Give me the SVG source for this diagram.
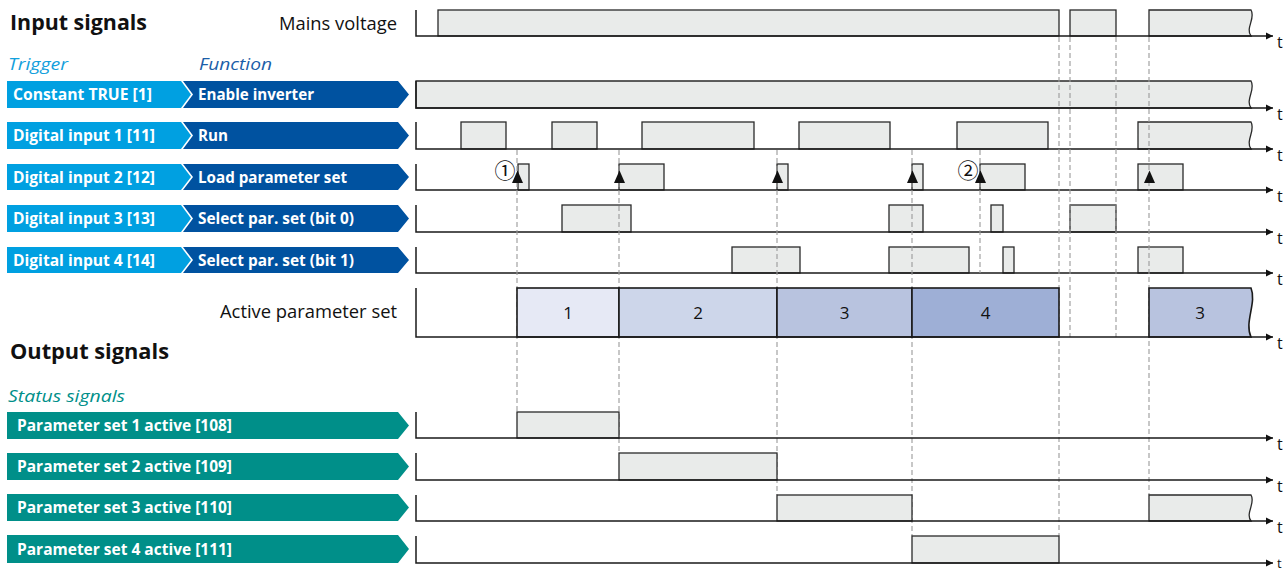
<svg xmlns="http://www.w3.org/2000/svg" width="1286" height="572" viewBox="0 0 1286 572">
<style>
.h{font-family:"Open Sans","Liberation Sans",sans-serif;font-weight:bold;font-size:21px;fill:#111}
.lbl{font-family:"Open Sans","Liberation Sans",sans-serif;font-size:18px;fill:#111}
.it{font-family:"Open Sans","Liberation Sans",sans-serif;font-style:italic;font-size:17px}
.bt{font-family:"Open Sans","Liberation Sans",sans-serif;font-weight:bold;font-size:16px;fill:#fff}
.t{font-family:"Open Sans","Liberation Sans",sans-serif;font-size:16px;fill:#111}
.num{font-family:"Open Sans","Liberation Sans",sans-serif;font-size:17px;fill:#111;text-anchor:middle}
.circ{font-family:"Noto Sans CJK JP","DejaVu Sans",sans-serif;font-size:21px;fill:#111;text-anchor:middle}
.trg{fill:#00a0e1}
.fn{fill:#0052a0}
.st{fill:#008f89}
.ax{fill:none;stroke:#1a1a1a;stroke-width:1.5;marker-end:url(#arr)}
.p{fill:#e9ebea;stroke:#2a2a2a;stroke-width:1.3}
.dash{fill:none;stroke:#9a9a9a;stroke-width:1.1;stroke-dasharray:5 3}
.box{stroke:#1a1a1a;stroke-width:1.6}
.c1{fill:#e6e9f5}.c2{fill:#cdd6ea}.c3{fill:#b8c3df}.c4{fill:#9eafd6}
</style>
<defs>
<marker id="arr" markerWidth="8" markerHeight="8" refX="7" refY="4" orient="auto" markerUnits="userSpaceOnUse"><path d="M0,0.5 L7,4 L0,7.5 Z" fill="#111"/></marker>
<path id="up" d="M0,-6.5 L5.5,6 L-5.5,6 Z" fill="#111"/>
</defs>

<g id="headings">
<text class="h" x="10" y="30" textLength="137" lengthAdjust="spacingAndGlyphs">Input signals</text>
<text class="it" x="8" y="70" fill="#12a0dc" textLength="60" lengthAdjust="spacingAndGlyphs">Trigger</text>
<text class="it" x="199" y="70" fill="#1b5ea8" textLength="73" lengthAdjust="spacingAndGlyphs">Function</text>
<text class="h" x="10" y="359" textLength="159" lengthAdjust="spacingAndGlyphs">Output signals</text>
<text class="it" x="8" y="402" fill="#008f89" textLength="117" lengthAdjust="spacingAndGlyphs">Status signals</text>
</g>

<g id="mains">
<text class="lbl" x="279" y="30" textLength="118" lengthAdjust="spacingAndGlyphs">Mains voltage</text>
<rect class="p" x="438" y="10" width="621" height="26"/>
<rect class="p" x="1070" y="10" width="46" height="26"/>
<path class="p" d="M1149,36 V10 H1251 C1256,17.8 1245,28.2 1251,36 Z"/>
<path class="ax" d="M416,10 V36 H1273"/>
<text class="t" x="1277" y="48">t</text>
</g>

<g id="enable">
<polygon class="trg" points="7,81 181,81 191,94.5 181,108 7,108"/>
<polygon class="fn" points="183,81 398,81 409,94.5 398,108 183,108 193,94.5"/>
<text class="bt" x="13" y="100" textLength="139" lengthAdjust="spacingAndGlyphs">Constant TRUE [1]</text>
<text class="bt" x="198" y="100" textLength="116" lengthAdjust="spacingAndGlyphs">Enable inverter</text>
<path class="p" d="M416,108 V81 H1251 C1256,89.1 1245,99.9 1251,108 Z"/>
<path class="ax" d="M416,81 V108 H1273"/>
<text class="t" x="1277" y="120">t</text>
</g>

<g id="run">
<polygon class="trg" points="7,122 181,122 191,135.5 181,149 7,149"/>
<polygon class="fn" points="183,122 398,122 409,135.5 398,149 183,149 193,135.5"/>
<text class="bt" x="13" y="141" textLength="142" lengthAdjust="spacingAndGlyphs">Digital input 1 [11]</text>
<text class="bt" x="198" y="141" textLength="30" lengthAdjust="spacingAndGlyphs">Run</text>
<rect class="p" x="461" y="122" width="45" height="27"/>
<rect class="p" x="552" y="122" width="45" height="27"/>
<rect class="p" x="642" y="122" width="112" height="27"/>
<rect class="p" x="799" y="122" width="91" height="27"/>
<rect class="p" x="957" y="122" width="91" height="27"/>
<path class="p" d="M1138,149 V122 H1251 C1256,130.1 1245,140.9 1251,149 Z"/>
<path class="ax" d="M416,122 V149 H1273"/>
<text class="t" x="1277" y="161">t</text>
</g>

<g id="load">
<polygon class="trg" points="7,164 181,164 191,177 181,190 7,190"/>
<polygon class="fn" points="183,164 398,164 409,177 398,190 183,190 193,177"/>
<text class="bt" x="13" y="182.5" textLength="142" lengthAdjust="spacingAndGlyphs">Digital input 2 [12]</text>
<text class="bt" x="198" y="182.5" textLength="149" lengthAdjust="spacingAndGlyphs">Load parameter set</text>
<rect class="p" x="518" y="164" width="11" height="26"/>
<rect class="p" x="619" y="164" width="45" height="26"/>
<rect class="p" x="777" y="164" width="11" height="26"/>
<rect class="p" x="912" y="164" width="11" height="26"/>
<rect class="p" x="980" y="164" width="45" height="26"/>
<rect class="p" x="1138" y="164" width="45" height="26"/>
<path class="ax" d="M416,164 V190 H1273"/>
<text class="t" x="1277" y="202">t</text>
</g>

<g id="bit0">
<polygon class="trg" points="7,205 181,205 191,218.5 181,232 7,232"/>
<polygon class="fn" points="183,205 398,205 409,218.5 398,232 183,232 193,218.5"/>
<text class="bt" x="13" y="224" textLength="142" lengthAdjust="spacingAndGlyphs">Digital input 3 [13]</text>
<text class="bt" x="198" y="224" textLength="156" lengthAdjust="spacingAndGlyphs">Select par. set (bit 0)</text>
<rect class="p" x="562" y="205" width="69" height="27"/>
<rect class="p" x="889" y="205" width="34" height="27"/>
<rect class="p" x="991" y="205" width="12" height="27"/>
<rect class="p" x="1070" y="205" width="46" height="27"/>
<path class="ax" d="M416,205 V232 H1273"/>
<text class="t" x="1277" y="244">t</text>
</g>

<g id="bit1">
<polygon class="trg" points="7,247 181,247 191,260 181,273 7,273"/>
<polygon class="fn" points="183,247 398,247 409,260 398,273 183,273 193,260"/>
<text class="bt" x="13" y="265.5" textLength="142" lengthAdjust="spacingAndGlyphs">Digital input 4 [14]</text>
<text class="bt" x="198" y="265.5" textLength="156" lengthAdjust="spacingAndGlyphs">Select par. set (bit 1)</text>
<rect class="p" x="732" y="247" width="68" height="26"/>
<rect class="p" x="889" y="247" width="80" height="26"/>
<rect class="p" x="1003" y="247" width="11" height="26"/>
<rect class="p" x="1138" y="247" width="45" height="26"/>
<path class="ax" d="M416,247 V273 H1273"/>
<text class="t" x="1277" y="285">t</text>
</g>

<g id="connectors">
<path class="dash" d="M517,150 V412 M619,150 V453 M777,150 V495 M912,150 V536 M980,150 V273 M1059,37 V536 M1070,37 V337 M1116,37 V337 M1149,37 V495"/>
<use href="#up" x="517.5" y="177"/>
<use href="#up" x="619.5" y="177"/>
<use href="#up" x="777.5" y="177"/>
<use href="#up" x="912.5" y="177"/>
<use href="#up" x="980.5" y="177"/>
<use href="#up" x="1149.5" y="177"/>
<text class="circ" x="505" y="178">①</text>
<text class="circ" x="968" y="178">②</text>
</g>

<g id="active">
<text class="lbl" x="220" y="318" textLength="177" lengthAdjust="spacingAndGlyphs">Active parameter set</text>
<rect class="box c1" x="517" y="288" width="102" height="49"/>
<rect class="box c2" x="619" y="288" width="158" height="49"/>
<rect class="box c3" x="777" y="288" width="135" height="49"/>
<rect class="box c4" x="912" y="288" width="147" height="49"/>
<path class="box c3" d="M1149,337 V288 H1251 C1257,302.7 1244,322.3 1251,337 Z"/>
<text class="num" x="568" y="319">1</text>
<text class="num" x="698" y="319">2</text>
<text class="num" x="844.5" y="319">3</text>
<text class="num" x="985.5" y="319">4</text>
<text class="num" x="1200" y="319">3</text>
<path class="ax" d="M416,288 V337 H1273"/>
<text class="t" x="1277" y="349">t</text>
</g>

<g id="ps1">
<polygon class="st" points="7,412 398,412 409,425.5 398,439 7,439"/>
<text class="bt" x="17" y="431" textLength="215" lengthAdjust="spacingAndGlyphs">Parameter set 1 active [108]</text>
<rect class="p" x="517" y="412" width="102" height="26"/>
<path class="ax" d="M416,412 V438 H1273"/>
<text class="t" x="1277" y="450">t</text>
</g>

<g id="ps2">
<polygon class="st" points="7,453 398,453 409,466.5 398,480 7,480"/>
<text class="bt" x="17" y="472" textLength="215" lengthAdjust="spacingAndGlyphs">Parameter set 2 active [109]</text>
<rect class="p" x="619" y="453" width="158" height="27"/>
<path class="ax" d="M416,453 V480 H1273"/>
<text class="t" x="1277" y="492">t</text>
</g>

<g id="ps3">
<polygon class="st" points="7,494 398,494 409,507.5 398,521 7,521"/>
<text class="bt" x="17" y="513" textLength="215" lengthAdjust="spacingAndGlyphs">Parameter set 3 active [110]</text>
<rect class="p" x="777" y="495" width="135" height="26"/>
<path class="p" d="M1149,521 V495 H1251 C1256,502.8 1245,513.2 1251,521 Z"/>
<path class="ax" d="M416,495 V521 H1273"/>
<text class="t" x="1277" y="533">t</text>
</g>

<g id="ps4">
<polygon class="st" points="7,535 398,535 409,549 398,563 7,563"/>
<text class="bt" x="17" y="554.5" textLength="215" lengthAdjust="spacingAndGlyphs">Parameter set 4 active [111]</text>
<rect class="p" x="912" y="536" width="147" height="27"/>
<path class="ax" d="M416,536 V563 H1273"/>
<text class="t" x="1277" y="568" style="font-size:13px">t</text>
</g>
</svg>
